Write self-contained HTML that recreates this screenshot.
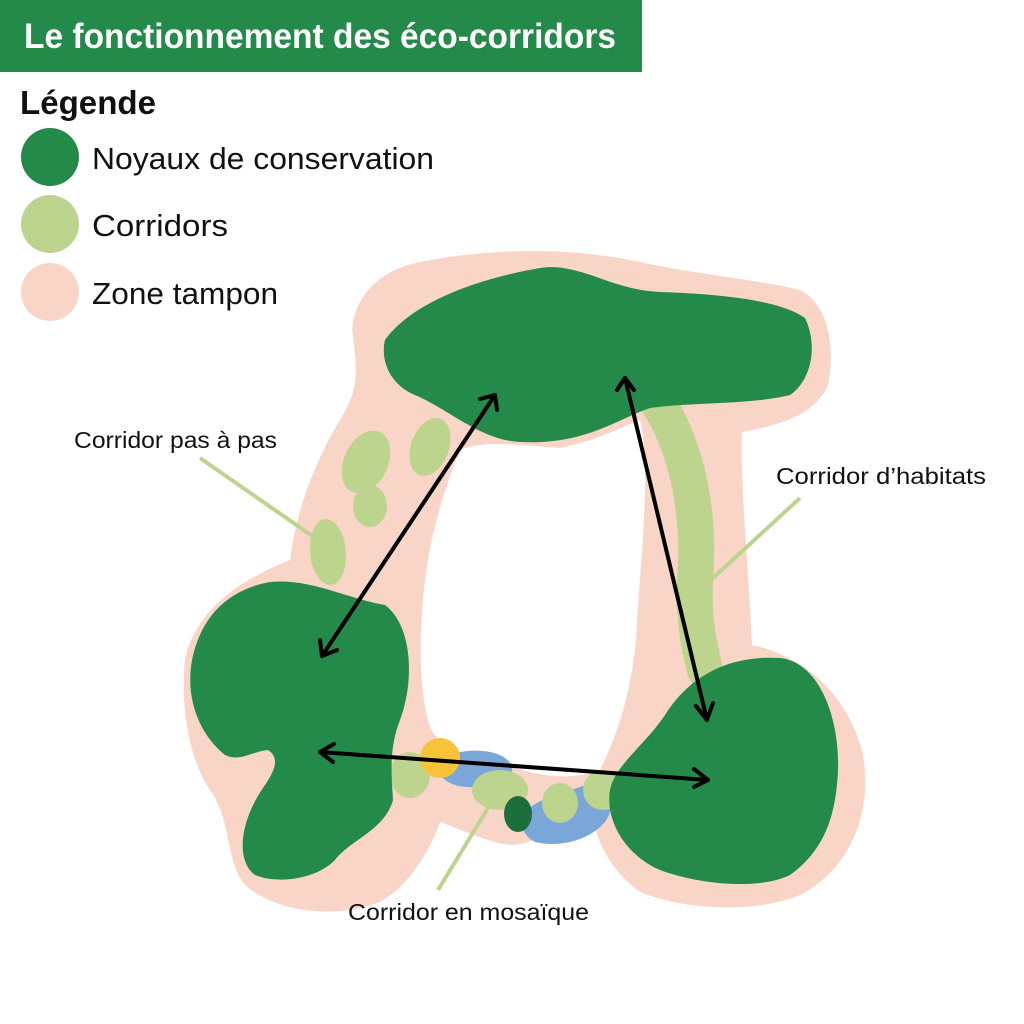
<!DOCTYPE html>
<html><head><meta charset="utf-8"><style>html,body{margin:0;padding:0;background:#fff}svg{display:block}</style></head>
<body>
<svg width="1024" height="1024" viewBox="0 0 1024 1024" xmlns="http://www.w3.org/2000/svg" font-family="Liberation Sans, sans-serif">
<rect width="1024" height="1024" fill="#fff"/>
<rect x="0" y="0" width="642" height="72" fill="#248a4a"/>
<text x="24" y="48" fill="#fff" font-size="35" font-weight="bold" textLength="592" lengthAdjust="spacingAndGlyphs">Le fonctionnement des éco-corridors</text>
<text x="20" y="114" fill="#111" font-size="33" font-weight="bold" textLength="136" lengthAdjust="spacingAndGlyphs">Légende</text>
<circle cx="50" cy="157" r="29" fill="#248a4a"/>
<circle cx="50" cy="224" r="29" fill="#bdd48f"/>
<circle cx="50" cy="292" r="29" fill="#f9d5c8"/>
<text x="92" y="169" fill="#111" font-size="31" textLength="342" lengthAdjust="spacingAndGlyphs">Noyaux de conservation</text>
<text x="92" y="236" fill="#111" font-size="31" textLength="136" lengthAdjust="spacingAndGlyphs">Corridors</text>
<text x="92" y="304" fill="#111" font-size="31" textLength="186" lengthAdjust="spacingAndGlyphs">Zone tampon</text>

<path fill="#f9d5c8" d="M185,660 C195,610 240,580 290,560 C295,520 310,470 340,420 C355,395 360,380 352,330 C355,295 380,270 420,262 C480,250 560,245 640,262 C700,275 760,280 800,290 C830,305 835,350 828,385 C815,415 780,425 742,432 C740,480 748,560 752,645 C800,655 845,690 862,750 C875,810 850,870 800,895 C760,912 690,912 640,892 C610,870 595,840 590,805 L560,815 C545,840 520,850 495,842 C470,835 450,825 440,822 C430,850 410,885 380,902 C340,918 280,915 245,885 C225,860 232,820 210,790 C190,760 180,710 185,660 Z"/>
<path fill="#fff" d="M425,580 C430,540 440,500 460,450 C480,440 520,445 560,448 C600,440 625,425 640,420 C652,470 640,560 636,640 C630,700 615,740 600,770 C560,785 520,770 490,760 C460,752 435,748 428,720 C420,690 418,640 425,580 Z"/>

<path d="M655,398 C690,450 700,520 695,580 C693,620 700,650 705,670" stroke="#bdd48f" stroke-width="36" fill="none" stroke-linecap="round"/>

<ellipse cx="366" cy="462" rx="22" ry="33" transform="rotate(25 366 462)" fill="#bdd48f"/>
<ellipse cx="430" cy="447" rx="19" ry="30" transform="rotate(20 430 447)" fill="#bdd48f"/>
<ellipse cx="370" cy="506" rx="17" ry="21" fill="#bdd48f"/>
<ellipse cx="328" cy="552" rx="18" ry="33" transform="rotate(-5 328 552)" fill="#bdd48f"/>

<ellipse cx="410" cy="775" rx="20" ry="23" fill="#bdd48f"/>
<path fill="#7ba7d8" d="M438,770 C440,752 470,748 490,752 C510,756 520,770 505,780 C485,790 445,792 438,770 Z"/>
<path fill="#7ba7d8" d="M525,815 C530,800 560,795 585,785 C610,780 618,805 605,822 C590,840 560,848 535,842 C522,835 520,825 525,815 Z"/>
<circle cx="440" cy="758" r="20" fill="#f8c23a"/>
<ellipse cx="500" cy="790" rx="28" ry="20" fill="#bdd48f"/>
<ellipse cx="560" cy="803" rx="18" ry="20" fill="#bdd48f"/>
<ellipse cx="603" cy="790" rx="20" ry="20" fill="#bdd48f"/>
<ellipse cx="518" cy="814" rx="14" ry="18" fill="#1d6e3d"/>

<path fill="#248a4a" d="M385,340 C410,305 470,280 540,268 C580,262 610,290 660,292 C720,294 780,300 805,318 C818,345 812,380 790,395 C750,405 690,402 650,408 C615,420 585,445 520,442 C480,440 450,410 415,395 C390,385 380,360 385,340 Z"/>
<path fill="#248a4a" d="M192,660 C200,620 225,590 270,582 C310,578 345,598 385,605 C412,625 415,680 400,720 C388,750 392,780 393,800 C385,830 350,840 335,860 C318,878 280,885 255,875 C235,860 240,820 265,785 C275,770 280,758 268,750 C250,752 240,762 225,755 C200,735 185,700 192,660 Z"/>
<path fill="#248a4a" d="M610,790 C615,765 645,745 665,715 C690,675 730,655 780,658 C820,662 840,720 838,770 C836,815 825,850 790,875 C760,890 700,885 660,870 C625,855 605,820 610,790 Z"/>

<g stroke="#000" stroke-width="4" fill="none" stroke-linecap="round" stroke-linejoin="round">
<line x1="495" y1="395" x2="322" y2="656"/>
<polyline points="480,399 495,395 497,410"/>
<polyline points="320,640 322,656 337,650"/>
<line x1="625" y1="378" x2="707" y2="720"/>
<polyline points="617,390 625,378 634,390"/>
<polyline points="696,706 707,720 713,703"/>
<line x1="320" y1="752" x2="708" y2="780"/>
<polyline points="334,744 320,752 333,762"/>
<polyline points="694,769 708,780 694,787"/>
</g>

<g stroke="#bdd48f" stroke-width="4">
<line x1="200" y1="458" x2="318" y2="540"/>
<line x1="800" y1="498" x2="700" y2="590"/>
<line x1="438" y1="890" x2="488" y2="808"/>
</g>
<text x="74" y="448" font-size="23" fill="#111" textLength="203" lengthAdjust="spacingAndGlyphs">Corridor pas à pas</text>
<text x="776" y="484" font-size="23" fill="#111" textLength="210" lengthAdjust="spacingAndGlyphs">Corridor d’habitats</text>
<text x="348" y="920" font-size="23" fill="#111" textLength="241" lengthAdjust="spacingAndGlyphs">Corridor en mosaïque</text>
</svg>
</body></html>
